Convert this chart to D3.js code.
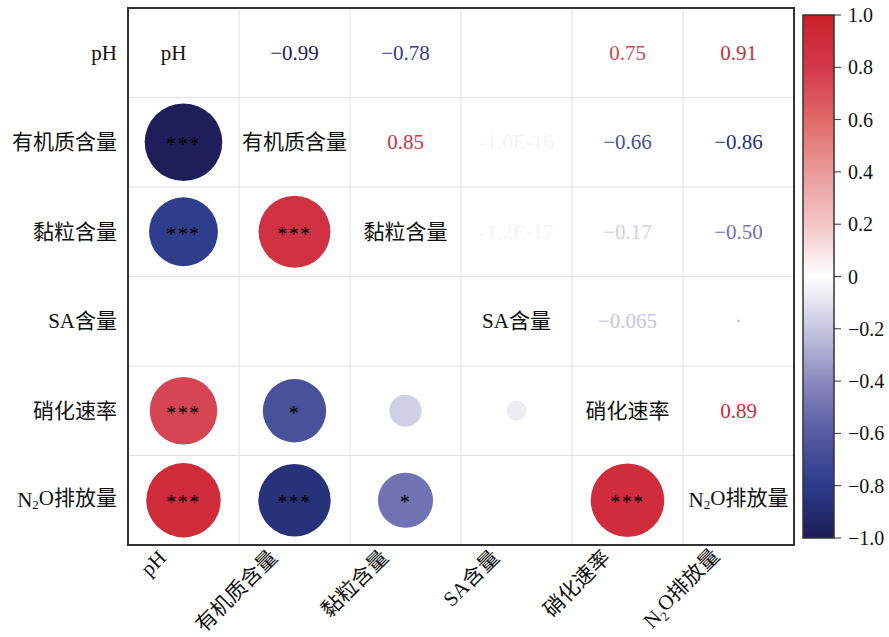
<!DOCTYPE html>
<html>
<head>
<meta charset="utf-8">
<script src="https://cdn.jsdelivr.net/npm/d3@7"></script>
<style>
  html, body { margin: 0; padding: 0; background: #fff; }
</style>
</head>
<body>
<div id="chart"></div>
<script>
// ── data ────────────────────────────────────────────────────────────────────
const variables = ['pH', '有机质含量', '黏粒含量', 'SA含量', '硝化速率', 'N2O排放量'];

// correlation matrix (row-major, same order as variables)
const corr = [
  [1, -0.99, -0.78, 0, 0.75, 0.91],
  [-0.99, 1, 0.85, -1.0e-16, -0.66, -0.86],
  [-0.78, 0.85, 1, -1.2e-17, -0.17, -0.5],
  [0, -1.0e-16, -1.2e-17, 1, -0.065, 0],
  [0.75, -0.66, -0.17, -0.065, 1, 0.89],
  [0.91, -0.86, -0.5, 0, 0.89, 1]
];

// labels printed in the upper triangle
const valueLabels = [
  ['', '−0.99', '−0.78', '', '0.75', '0.91'],
  ['', '', '0.85', '-1.0E-16', '−0.66', '−0.86'],
  ['', '', '', '-1.2E-17', '−0.17', '−0.50'],
  ['', '', '', '', '−0.065', '·'],
  ['', '', '', '', '', '0.89'],
  ['', '', '', '', '', '']
];

// significance marks in the lower triangle
const stars = [
  ['', '', '', '', '', ''],
  ['***', '', '', '', '', ''],
  ['***', '***', '', '', '', ''],
  ['', '', '', '', '', ''],
  ['***', '*', '', '', '', ''],
  ['***', '***', '*', '', '***', '']
];

const colorStops = [-1, -0.8, -0.6, -0.4, -0.2, 0, 0.2, 0.4, 0.6, 0.8, 1];
const colorValues = ['#1e1c57', '#2b3b8a', '#575aa2', '#8a8abf', '#c6c6e1', '#ffffff',
                     '#f3c6c6', '#e99a9a', '#e06a66', '#d3384c', '#cb2027'];
const barTicks = [1, 0.8, 0.6, 0.4, 0.2, 0, -0.2, -0.4, -0.6, -0.8, -1];

// ── layout ──────────────────────────────────────────────────────────────────
const W = 889, H = 637;
const plot = { left: 128, top: 8, right: 794, bottom: 545 };
const bar = { left: 803, right: 834, top: 15, bottom: 538 };
const FONT = '"Liberation Serif", "Times New Roman", "Noto Sans CJK SC", serif';

const svg = d3.select('#chart').append('svg').attr('width', W).attr('height', H);

const x = d3.scaleBand().domain(variables).range([plot.left, plot.right]);
const y = d3.scaleBand().domain(variables).range([plot.top, plot.bottom]);
const color = d3.scaleLinear().domain(colorStops).range(colorValues).clamp(true);
const radius = d3.scaleSqrt().domain([0, 1]).range([0, 39]);

// text colour: near-zero values still show faintly, as in the original
const textColor = (v) => {
  const a = Math.abs(v);
  return color((v < 0 ? -1 : 1) * (a < 0.04 ? 0.04 : a < 0.1 ? 0.2 : a));
};

// label text with N2O subscript
function setLabel(sel, name) {
  if (name.startsWith('N2O')) {
    sel.append('tspan').text('N');
    sel.append('tspan').attr('font-size', '0.62em').attr('dy', '0.3em').text('2');
    sel.append('tspan').attr('dy', '-0.3em').text(name.slice(2));
  } else {
    sel.text(name);
  }
}

// ── grid ────────────────────────────────────────────────────────────────────
const grid = svg.append('g');
variables.slice(1).forEach((v) => {
  grid.append('line')
    .attr('x1', x(v)).attr('x2', x(v))
    .attr('y1', plot.top).attr('y2', plot.bottom)
    .attr('stroke', '#e2e2e2').attr('stroke-width', 1);
  grid.append('line')
    .attr('x1', plot.left).attr('x2', plot.right)
    .attr('y1', y(v)).attr('y2', y(v))
    .attr('stroke', '#e2e2e2').attr('stroke-width', 1);
});

// ── cells ───────────────────────────────────────────────────────────────────
const cells = svg.append('g');
variables.forEach((rv, i) => {
  variables.forEach((cv, j) => {
    const cx = x(cv) + x.bandwidth() / 2;
    const cy = y(rv) + y.bandwidth() / 2;
    const val = corr[i][j];
    if (i === j) {
      const t = cells.append('text')
        .attr('x', i === 0 ? cx - 10 : cx).attr('y', cy)
        .attr('text-anchor', 'middle').attr('dominant-baseline', 'central')
        .attr('font-family', FONT).attr('font-size', '21px').attr('fill', '#111');
      setLabel(t, rv);
    } else if (i > j) {
      const r = radius(Math.abs(val));
      if (r > 0.5) {
        cells.append('circle')
          .attr('cx', cx).attr('cy', cy).attr('r', r)
          .attr('fill', color(val));
      }
      if (stars[i][j]) {
        cells.append('text')
          .attr('x', cx).attr('y', cy + 9)
          .attr('text-anchor', 'middle')
          .attr('font-family', FONT).attr('font-size', '20px')
          .attr('letter-spacing', '1.5px')
          .attr('fill', '#000')
          .text(stars[i][j]);
      }
    } else if (valueLabels[i][j]) {
      cells.append('text')
        .attr('x', cx).attr('y', cy)
        .attr('text-anchor', 'middle').attr('dominant-baseline', 'central')
        .attr('font-family', FONT).attr('font-size', '21px')
        .attr('fill', valueLabels[i][j] === '·' ? '#bbb' : textColor(val))
        .text(valueLabels[i][j]);
    }
  });
});

// ── frame ───────────────────────────────────────────────────────────────────
svg.append('rect')
  .attr('x', plot.left).attr('y', plot.top)
  .attr('width', plot.right - plot.left).attr('height', plot.bottom - plot.top)
  .attr('fill', 'none').attr('stroke', '#333').attr('stroke-width', 2);

// ── axis labels ─────────────────────────────────────────────────────────────
variables.forEach((v) => {
  const t = svg.append('text')
    .attr('x', plot.left - 11).attr('y', y(v) + y.bandwidth() / 2)
    .attr('text-anchor', 'end').attr('dominant-baseline', 'central')
    .attr('font-family', FONT).attr('font-size', '21px').attr('fill', '#111');
  setLabel(t, v);

  const bx = x(v) + x.bandwidth() / 2 - 16;
  const by = plot.bottom + 14;
  const tx = svg.append('text')
    .attr('transform', `translate(${bx},${by}) rotate(-45)`)
    .attr('text-anchor', 'end')
    .attr('font-family', FONT).attr('font-size', '21px').attr('fill', '#111');
  setLabel(tx, v);
});

// ── colour bar ──────────────────────────────────────────────────────────────
const grad = svg.append('defs').append('linearGradient')
  .attr('id', 'cbar').attr('x1', 0).attr('x2', 0).attr('y1', 1).attr('y2', 0);
colorStops.forEach((s, k) => {
  grad.append('stop')
    .attr('offset', `${((s + 1) / 2) * 100}%`)
    .attr('stop-color', colorValues[k]);
});

const cy2 = d3.scaleLinear().domain([-1, 1]).range([bar.bottom, bar.top]);

svg.append('rect')
  .attr('x', bar.left).attr('y', bar.top)
  .attr('width', bar.right - bar.left).attr('height', bar.bottom - bar.top)
  .attr('fill', 'url(#cbar)').attr('stroke', '#333').attr('stroke-width', 1.5);

const fmt = (t) => (t === 0 ? '0' : (t < 0 ? '−' : '') + d3.format('.1f')(Math.abs(t)));

barTicks.forEach((t) => {
  svg.append('line')
    .attr('x1', bar.right).attr('x2', bar.right + 7)
    .attr('y1', cy2(t)).attr('y2', cy2(t))
    .attr('stroke', '#333').attr('stroke-width', 1);
  svg.append('text')
    .attr('x', bar.right + 14).attr('y', cy2(t))
    .attr('dominant-baseline', 'central')
    .attr('font-family', FONT).attr('font-size', '20px').attr('fill', '#111')
    .text(fmt(t));
});
</script>
</body>
</html>
